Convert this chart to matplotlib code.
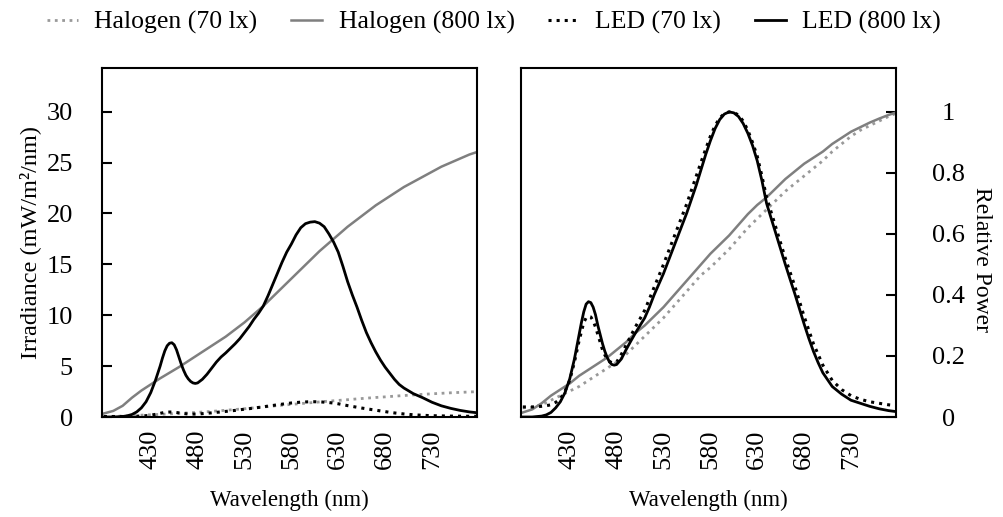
#!/usr/bin/env python3

import matplotlib
matplotlib.use('Agg')
import matplotlib.pyplot as plt
from matplotlib.ticker import FormatStrFormatter

plt.rcParams['font.family'] = ['Liberation Serif', 'DejaVu Serif']
plt.rcParams['font.size'] = 17

# LED spectra (finer sampling around the blue peak)
wl_led = [380, 390, 400, 405, 410, 415, 420, 425, 430, 435,
          437.5, 440, 442.5, 445, 447.5, 450, 452.5, 455, 457.5, 460,
          462.5, 465, 467.5, 470, 472.5, 475, 477.5, 480, 485, 490,
          495, 500, 505, 510, 515, 520, 525, 530, 535, 540,
          545, 550, 555, 560, 565, 570, 575, 580, 585, 590,
          595, 600, 605, 610, 615, 620, 625, 630, 635, 640,
          645, 650, 655, 660, 665, 670, 675, 680, 685, 690,
          695, 700, 710, 720, 730, 740, 750, 760, 770, 780]

led_800 = [0.0, 0.0, 0.05, 0.12, 0.25, 0.5, 0.9, 1.5, 2.4, 3.6,
           4.3, 5.0, 5.8, 6.5, 7.0, 7.25, 7.3, 7.1, 6.6, 5.9,
           5.2, 4.6, 4.1, 3.75, 3.5, 3.35, 3.3, 3.35, 3.7, 4.2,
           4.8, 5.4, 5.9, 6.3, 6.75, 7.2, 7.7, 8.3, 8.9, 9.6,
           10.2, 10.9, 11.9, 13.0, 14.1, 15.2, 16.2, 17.0, 17.9, 18.6,
           19.0, 19.15, 19.2, 19.05, 18.7, 18.0, 17.2, 16.2, 14.8, 13.3,
           12.0, 10.8, 9.5, 8.3, 7.3, 6.4, 5.6, 4.9, 4.3, 3.7,
           3.2, 2.85, 2.3, 1.9, 1.45, 1.1, 0.85, 0.65, 0.5, 0.4]

led_70 = [0.05, 0.05, 0.05, 0.06, 0.07, 0.08, 0.1, 0.13, 0.18, 0.26,
          0.31, 0.36, 0.41, 0.45, 0.48, 0.49, 0.49, 0.47, 0.44, 0.41,
          0.38, 0.35, 0.32, 0.3, 0.29, 0.29, 0.29, 0.29, 0.33, 0.37,
          0.41, 0.46, 0.5, 0.55, 0.6, 0.65, 0.71, 0.77, 0.82, 0.88,
          0.94, 1.0, 1.07, 1.13, 1.2, 1.26, 1.32, 1.38, 1.42, 1.46,
          1.48, 1.5, 1.5, 1.49, 1.46, 1.42, 1.37, 1.3, 1.21, 1.12,
          1.04, 0.96, 0.88, 0.81, 0.74, 0.67, 0.6, 0.53, 0.46, 0.4,
          0.35, 0.3, 0.22, 0.17, 0.13, 0.11, 0.09, 0.08, 0.07, 0.07]

led_800_rel = [0.0, 0.0, 0.003, 0.007, 0.015, 0.03, 0.05, 0.08, 0.125, 0.19,
               0.23, 0.27, 0.31, 0.345, 0.37, 0.378, 0.375, 0.36, 0.335, 0.30,
               0.27, 0.24, 0.215, 0.195, 0.18, 0.172, 0.17, 0.172, 0.19, 0.22,
               0.248, 0.275, 0.30, 0.325, 0.36, 0.40, 0.435, 0.47, 0.51, 0.55,
               0.59, 0.63, 0.67, 0.715, 0.76, 0.81, 0.86, 0.905, 0.945, 0.975,
               0.993, 1.0, 0.997, 0.985, 0.962, 0.93, 0.89, 0.84, 0.775, 0.70,
               0.65, 0.60, 0.55, 0.50, 0.452, 0.405, 0.355, 0.305, 0.258, 0.215,
               0.178, 0.145, 0.10, 0.075, 0.055, 0.045, 0.035, 0.027, 0.021, 0.017]

led_70_rel = [0.033, 0.033, 0.035, 0.037, 0.04, 0.048, 0.06, 0.085, 0.12, 0.18,
              0.215, 0.25, 0.28, 0.31, 0.325, 0.33, 0.328, 0.315, 0.295, 0.27,
              0.245, 0.22, 0.203, 0.19, 0.182, 0.178, 0.178, 0.18, 0.205, 0.235,
              0.265, 0.295, 0.322, 0.35, 0.387, 0.425, 0.462, 0.50, 0.54, 0.58,
              0.62, 0.66, 0.70, 0.745, 0.79, 0.835, 0.878, 0.92, 0.955, 0.98,
              0.995, 1.0, 0.998, 0.99, 0.97, 0.94, 0.9, 0.855, 0.79, 0.72,
              0.67, 0.62, 0.57, 0.52, 0.475, 0.43, 0.38, 0.33, 0.285, 0.24,
              0.205, 0.17, 0.12, 0.09, 0.07, 0.058, 0.05, 0.045, 0.04, 0.037]

# halogen spectra
wl_hal = list(range(380, 781, 10))

hal_800 = [0.35, 0.6, 1.1, 1.9, 2.6, 3.2, 3.8, 4.35, 4.9, 5.5, 6.1, 6.7, 7.3, 7.9, 8.6, 9.3, 10.1, 10.9, 11.8,
           12.7, 13.6, 14.5, 15.4, 16.3, 17.1, 17.9, 18.7, 19.4, 20.1, 20.8, 21.4, 22.0, 22.6, 23.1, 23.6,
           24.1, 24.6, 25.0, 25.4, 25.8, 26.1]

hal_70 = [0.05, 0.06, 0.09, 0.13, 0.18, 0.22, 0.26, 0.31, 0.36, 0.41, 0.46, 0.52, 0.59, 0.66, 0.74, 0.81,
          0.9, 0.98, 1.07, 1.16, 1.24, 1.32, 1.4, 1.48, 1.56, 1.63, 1.7, 1.78, 1.85, 1.92, 1.98, 2.05, 2.11,
          2.17, 2.23, 2.28, 2.33, 2.38, 2.42, 2.46, 2.5]

hal_800_rel = [0.015, 0.025, 0.045, 0.07, 0.09, 0.11, 0.135, 0.155, 0.175, 0.195, 0.22, 0.245, 0.275, 0.30,
               0.33, 0.36, 0.395, 0.43, 0.465, 0.50, 0.535, 0.565, 0.595, 0.63, 0.665, 0.695, 0.72, 0.75,
               0.78, 0.805, 0.83, 0.85, 0.87, 0.895, 0.915, 0.935, 0.95, 0.965, 0.978, 0.99, 1.0]

hal_70_rel = [0.03, 0.032, 0.04, 0.055, 0.07, 0.085, 0.1, 0.12, 0.14, 0.16, 0.18, 0.205, 0.235, 0.265,
              0.295, 0.325, 0.36, 0.395, 0.43, 0.465, 0.49, 0.52, 0.55, 0.585, 0.62, 0.65, 0.68, 0.71,
              0.74, 0.765, 0.79, 0.815, 0.84, 0.87, 0.895, 0.92, 0.94, 0.955, 0.97, 0.985, 0.998]

xticks = [430, 480, 530, 580, 630, 680, 730]

styles = {
	'hal70': dict(color='#999999', linestyle=':', linewidth=2.0),
	'hal800': dict(color='#7f7f7f', linestyle='-', linewidth=1.8),
	'led70': dict(color='black', linestyle=':', linewidth=2.2),
	'led800': dict(color='black', linestyle='-', linewidth=2.0),
}

fig = plt.figure(figsize=(10.04, 5.17), dpi=100)
ax1 = fig.add_axes([0.1016, 0.1934, 0.3735, 0.6751])
ax2 = fig.add_axes([0.5189, 0.1934, 0.3735, 0.6751])

lines = []
lines += ax1.plot(wl_hal, hal_70, label='Halogen (70 lx)', **styles['hal70'])
lines += ax1.plot(wl_hal, hal_800, label='Halogen (800 lx)', **styles['hal800'])
lines += ax1.plot(wl_led, led_70, label='LED (70 lx)', **styles['led70'])
lines += ax1.plot(wl_led, led_800, label='LED (800 lx)', **styles['led800'])

ax2.plot(wl_hal, hal_70_rel, **styles['hal70'])
ax2.plot(wl_hal, hal_800_rel, **styles['hal800'])
ax2.plot(wl_led, led_70_rel, **styles['led70'])
ax2.plot(wl_led, led_800_rel, **styles['led800'])

for ax in (ax1, ax2):
	ax.set_xlim(378, 778)
	ax.set_xticks(xticks)
	ax.set_xticklabels([str(t) for t in xticks], rotation=90)
	ax.tick_params(axis='x', length=0, pad=9, labelsize=19)
	ax.set_xlabel('Wavelength (nm)', labelpad=15, fontsize=16.5)
	for s in ax.spines.values():
		s.set_linewidth(1.5)

ax1.set_ylim(0, 34.3)
ax1.set_yticks([0, 5, 10, 15, 20, 25, 30])
ax1.tick_params(axis='y', direction='in', length=7, width=1.5, pad=21, labelsize=19)
ax1.set_ylabel('Irradiance (mW/m²/nm)', labelpad=4, fontsize=17.5)

ax2.set_ylim(0, 1.144)
ax2.set_yticks([0, 0.2, 0.4, 0.6, 0.8, 1.0])
ax2.yaxis.set_major_formatter(FormatStrFormatter('%g'))
ax2.yaxis.tick_right()
ax2.tick_params(axis='y', direction='in', length=7, width=1.5, pad=38, labelsize=19)
plt.setp(ax2.get_yticklabels(), ha='center')
ax2.set_ylabel('Relative Power', rotation=270, va='center')
ax2.yaxis.set_label_position('right')
ax2.yaxis.set_label_coords(1.255, 0.45)

fig.legend(handles=lines, loc='center', bbox_to_anchor=(0.492, 0.957), ncol=4, frameon=False,
           fontsize=18.5, handlelength=1.2, handletextpad=0.65, columnspacing=1.3)

fig.savefig('out.png', dpi=100)
plt.close(fig)
